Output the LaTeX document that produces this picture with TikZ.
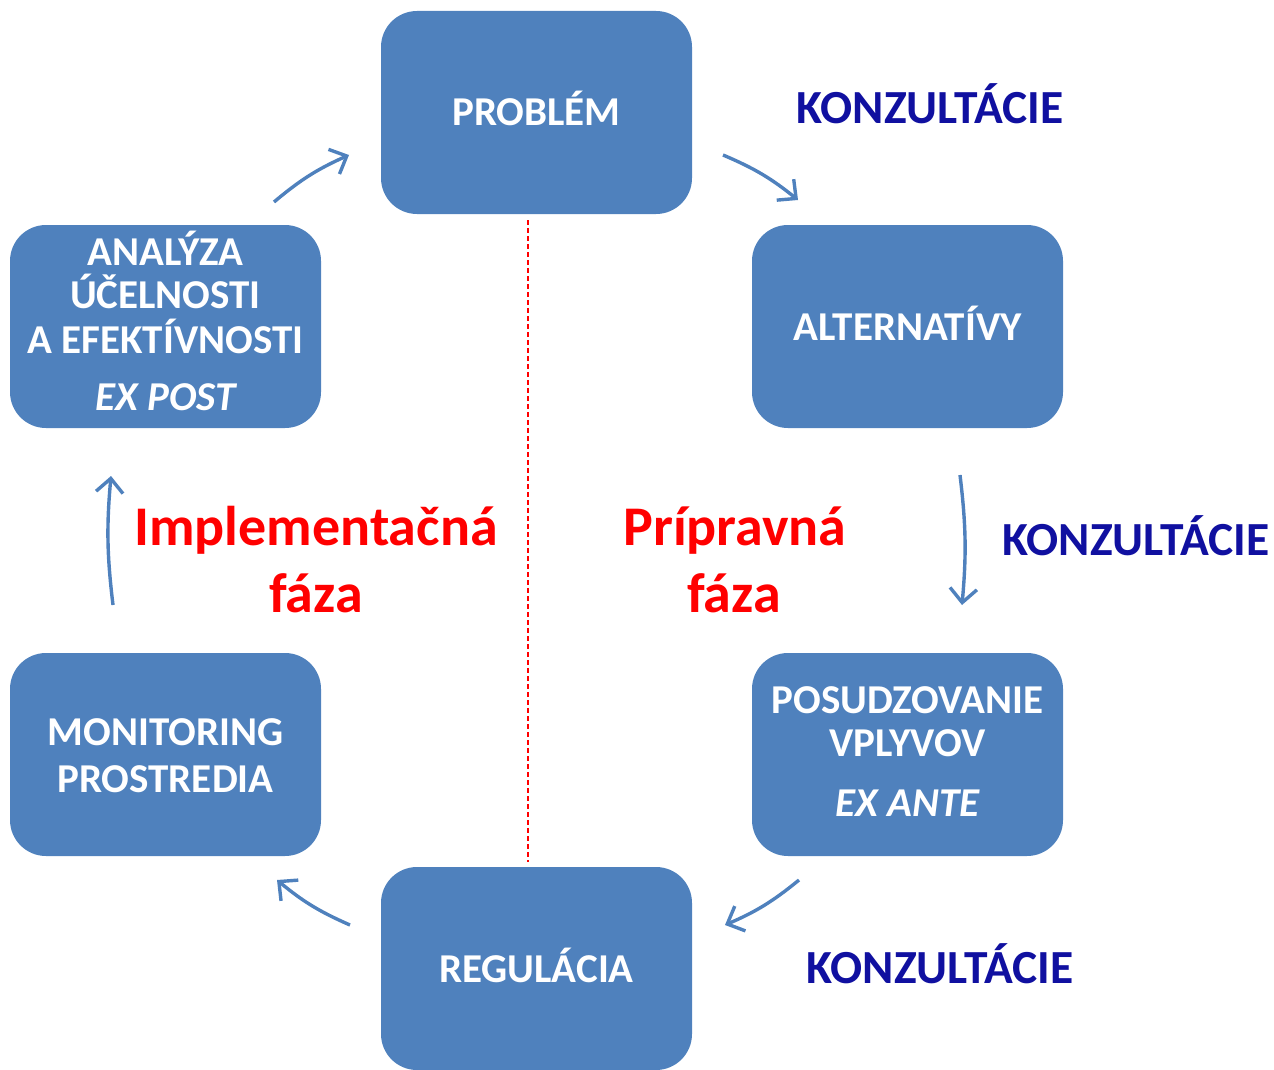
\documentclass[tikz,border=0pt]{standalone}
\usepackage{fontspec}
\setmainfont{Carlito}
\usetikzlibrary{arrows.meta}
\definecolor{boxblue}{HTML}{4F81BD}
\definecolor{konz}{RGB}{16,16,160}
\definecolor{phred}{RGB}{255,0,0}
\tikzset{
  box/.style={fill=boxblue, rounded corners=36pt, minimum width=311pt, minimum height=203pt, inner sep=0pt},
  btxt/.style={anchor=base, text=white, font=\bfseries\fontsize{41}{48}\selectfont, inner sep=0pt},
  bital/.style={btxt, font=\bfseries\itshape\fontsize{41}{48}\selectfont},
  konzt/.style={anchor=base, text=konz, font=\bfseries\fontsize{47.5}{56}\selectfont, inner sep=0pt},
  phase/.style={anchor=base, text=phred, font=\bfseries\fontsize{56}{66}\selectfont, inner sep=0pt},
  cyc/.style={draw=boxblue, line width=3.4pt, -{Straight Barb[length=14pt,width=27pt]}},
  divider/.style={draw=phred, line width=1.8pt, dash pattern=on 5pt off 3pt}
}
\begin{document}
\begin{tikzpicture}[x=1pt,y=-1pt]
\useasboundingbox (0,0) rectangle (1274,1070);
% boxes
\node[box] (problem) at (536.5,112.5) {};
\node[box] (altern) at (907.5,326.5) {};
\node[box] (posud) at (907.5,754.5) {};
\node[box] (regul) at (536.5,968.5) {};
\node[box] (monit) at (165.5,754.5) {};
\node[box] (analyza) at (165.5,326.5) {};
% box texts
\node[btxt] (tproblem) at (536.5,125) {PROBLÉM};
\node[btxt] (taltern) at (907.5,340) {ALTERNATÍVY};
\node[btxt] (tanal1) at (165.5,265) {ANALÝZA};
\node[btxt] (tanal2) at (165.5,308) {ÚČELNOSTI};
\node[btxt] (tanal3) at (165.5,353) {A EFEKTÍVNOSTI};
\node[bital] (tanal4) at (165.5,410) {EX POST};
\node[btxt] (tpos1) at (907.5,713) {POSUDZOVANIE};
\node[btxt] (tpos2) at (907.5,756) {VPLYVOV};
\node[bital] (tpos3) at (907.5,816) {EX ANTE};
\node[btxt] (tmon1) at (165.5,745) {MONITORING};
\node[btxt] (tmon2) at (165.5,792) {PROSTREDIA};
\node[btxt] (treg) at (536.5,982) {REGULÁCIA};
% consultations
\node[konzt] (k1) at (930,124) {KONZULTÁCIE};
\node[konzt] (k2) at (1136,555) {KONZULTÁCIE};
\node[konzt] (k3) at (940,983) {KONZULTÁCIE};
% phases
\node[phase] (impl1) at (316,545) {Implementačná};
\node[phase] (impl2) at (316,612) {fáza};
\node[phase] (prip1) at (735,545) {Prípravná};
\node[phase] (prip2) at (734,612) {fáza};
% divider
\coordinate (dtop) at (528,220);
\coordinate (dbot) at (528,862);
\draw[divider] (dtop) -- (dbot);
% cycle arrows
\coordinate (a1s) at (274,202); \coordinate (a1e) at (349,155);
\coordinate (a2s) at (723,155); \coordinate (a2e) at (798,200);
\coordinate (a3s) at (960,475); \coordinate (a3e) at (962,605);
\coordinate (a4s) at (799,880); \coordinate (a4e) at (725,925);
\coordinate (a5s) at (350,925); \coordinate (a5e) at (277,880);
\coordinate (a6s) at (113,605); \coordinate (a6e) at (111,476);
\draw[cyc] (a1s) to[bend left=8] (a1e);
\draw[cyc] (a2s) to[bend left=8] (a2e);
\draw[cyc] (a3s) to[bend left=6] (a3e);
\draw[cyc] (a4s) to[bend left=8] (a4e);
\draw[cyc] (a5s) to[bend left=8] (a5e);
\draw[cyc] (a6s) to[bend left=6] (a6e);
\end{tikzpicture}
\end{document}
